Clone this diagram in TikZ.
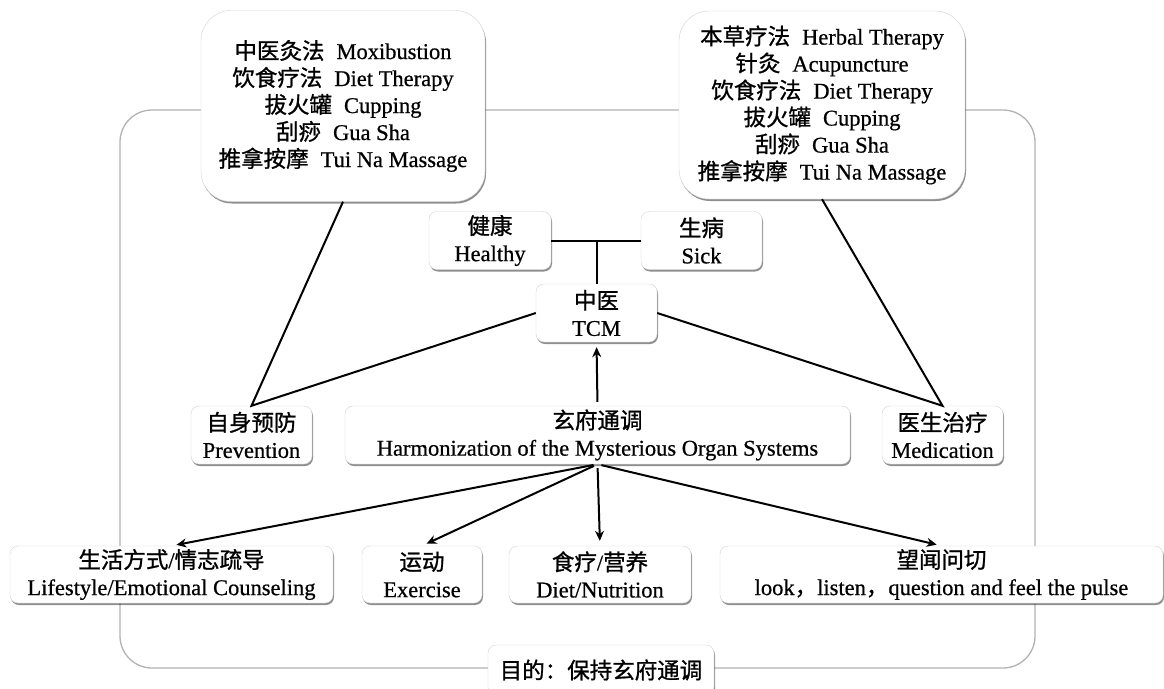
\documentclass[tikz,border=0pt]{standalone}
\usepackage{fontspec}
\setmainfont[FakeBold=0.6]{Liberation Serif}
\newfontfamily\cjk[FakeBold=1]{Noto Sans CJK SC}
\usetikzlibrary{arrows.meta,shadows}
\newcommand{\zh}[1]{{\cjk #1}}
\newcommand{\terapia}[2]{\zh{#1}\hspace{12pt}#2}
\tikzset{
  caja/.style={draw=gray!35, fill=white, rounded corners=8pt, align=center, inner sep=0pt,
    drop shadow={shadow xshift=1pt, shadow yshift=-2pt, fill=black!80, opacity=.55}},
  cajagrande/.style={caja, rounded corners=30pt},
  linea/.style={line width=2pt},
  flecha/.style={linea, -{Stealth[length=10pt,width=9pt]}, shorten <=4pt, shorten >=5pt},
  marco/.style={draw=gray!60, line width=1.3pt, rounded corners=32pt}}

\begin{document}
\begin{tikzpicture}[x=1pt, y=-1pt, font=\fontsize{22.5}{27}\selectfont]
  \useasboundingbox (0,0) rectangle (1164,688);
  \draw[marco] (120,110) rectangle (1035,668);
  % cajas de tecnicas
  \node[cajagrande, minimum width=284, minimum height=191] (tecprev) at (343,106)
    {\terapia{中医灸法}{Moxibustion}\\ \terapia{饮食疗法}{Diet Therapy}\\
     \terapia{拔火罐}{Cupping}\\ \terapia{刮痧}{Gua Sha}\\ \terapia{推拿按摩}{Tui Na Massage}};
  \node[cajagrande, minimum width=286, minimum height=188] (tecmed) at (822,105)
    {\terapia{本草疗法}{Herbal Therapy}\\ \terapia{针灸}{Acupuncture}\\
     \terapia{饮食疗法}{Diet Therapy}\\ \terapia{拔火罐}{Cupping}\\
     \terapia{刮痧}{Gua Sha}\\ \terapia{推拿按摩}{Tui Na Massage}};
  % centro
  \node[caja, minimum width=122, minimum height=58] (sano) at (490,240.5) {\zh{健康}\\ Healthy};
  \node[caja, minimum width=121, minimum height=58] (enfermo) at (701.5,240.5) {\zh{生病}\\ Sick};
  \node[caja, minimum width=121, minimum height=58] (mtc) at (596.5,313) {\zh{中医}\\ TCM};
  \node[caja, minimum width=121, minimum height=58] (prev) at (251.5,435) {\zh{自身预防}\\ Prevention};
  \node[caja, minimum width=505, minimum height=58] (armon) at (597.5,435)
    {\zh{玄府通调}\\ Harmonization of the Mysterious Organ Systems};
  \node[caja, minimum width=121, minimum height=58] (medic) at (942.5,435) {\zh{医生治疗}\\ Medication};
  % fila de abajo
  \node[caja, minimum width=323, minimum height=57] (vida) at (171.5,574.5)
    {\zh{生活方式}/\zh{情志疏导}\\ Lifestyle/Emotional Counseling};
  \node[caja, minimum width=120, minimum height=57] (ejer) at (422,574.5) {\zh{运动}\\ Exercise};
  \node[caja, minimum width=182, minimum height=57] (dieta) at (600,574.5) {\zh{食疗}/\zh{营养}\\ Diet/Nutrition};
  \node[caja, minimum width=443, minimum height=57] (diag) at (941.5,574.5)
    {\zh{望闻问切}\\ look\zh{，}listen\zh{，}question and feel the pulse};
  \node[caja, minimum width=226, minimum height=50] (meta) at (601,670) {\zh{目的：保持玄府通调}};
  % conectores
  \draw[linea] (sano.east) -- (enfermo.west);
  \draw[linea] (mtc.north) -- (mtc.north |- sano.east);
  \draw[linea] (tecprev.south) -- (prev.north) -- (mtc.west);
  \draw[linea] (tecmed.south) -- (medic.north) -- (mtc.east);
  \draw[flecha] (armon.north) -- (mtc.south);
  \foreach \d in {vida,ejer,dieta,diag}
    \draw[flecha] (armon.south) -- (\d.north);
\end{tikzpicture}
\end{document}
